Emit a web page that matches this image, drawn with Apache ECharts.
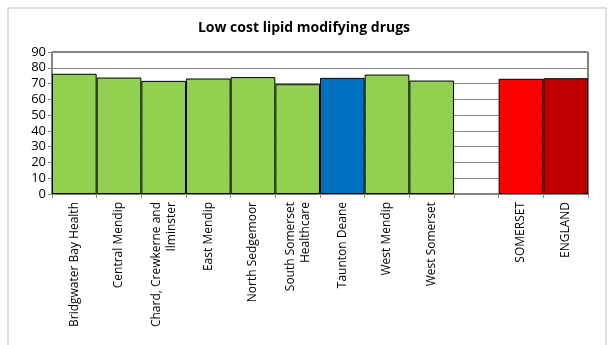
<!DOCTYPE html>
<html><head><meta charset="utf-8">
<script src="https://cdn.jsdelivr.net/npm/echarts@6/dist/echarts.min.js"></script>
<style>html,body{margin:0;padding:0;background:#fff}#c{width:608px;height:345px}</style>
</head><body><div id="c"></div>
<script>
var categories = ['Bridgwater Bay Health','Central Mendip','Chard, Crewkerne and\nIlminster','East Mendip','North Sedgemoor','South Somerset\nHealthcare','Taunton Deane','West Mendip','West Somerset','','SOMERSET','ENGLAND'];
var values = [76.2, 73.8, 71.7, 73.2, 74.1, 69.6, 73.6, 75.7, 71.9, null, 73.0, 73.4];
var barColors = ['#92D050','#92D050','#92D050','#92D050','#92D050','#92D050','#0070C0','#92D050','#92D050','#92D050','#FF0000','#C00000'];
var yTicks = [0,10,20,30,40,50,60,70,80,90];
var title = 'Low cost lipid modifying drugs';

var chart = echarts.init(document.getElementById('c'), null, {renderer:'canvas'});
var font = '"Open Sans", "Noto Sans", sans-serif';
chart.setOption({
  animation:false,
  backgroundColor:'#fff',
  title:{text:title,left:'center',top:16,textStyle:{fontFamily:font,fontSize:14,fontWeight:'bold',color:'#000'}},
  grid:{left:52,right:20,top:52,bottom:151,containLabel:false,show:true,borderColor:'#000',borderWidth:1,backgroundColor:'transparent'},
  xAxis:{type:'category',data:categories,
    axisLine:{lineStyle:{color:'#868686'}},
    axisTick:{show:true,alignWithLabel:false,length:4,lineStyle:{color:'#868686'}},
    axisLabel:{rotate:90,interval:0,margin:8,color:'#000',fontFamily:font,fontSize:12,lineHeight:15}},
  yAxis:{type:'value',min:yTicks[0],max:yTicks[yTicks.length-1],interval:10,
    axisLine:{show:true,lineStyle:{color:'#868686'}},
    axisTick:{show:true,length:4,lineStyle:{color:'#868686'}},
    splitLine:{lineStyle:{color:'#868686'}},
    axisLabel:{color:'#000',fontFamily:font,fontSize:13,margin:6}},
  graphic:[{type:'rect',shape:{x:8,y:8,width:598,height:360},style:{fill:'none',stroke:'#BFBFBF',lineWidth:1},silent:true}],
  series:[{type:'bar',barCategoryGap:'0%',
    data:values.map(function(v,i){return {value:v,itemStyle:{color:barColors[i]}};}),
    itemStyle:{borderColor:'#000',borderWidth:1}}]
});
</script></body></html>
